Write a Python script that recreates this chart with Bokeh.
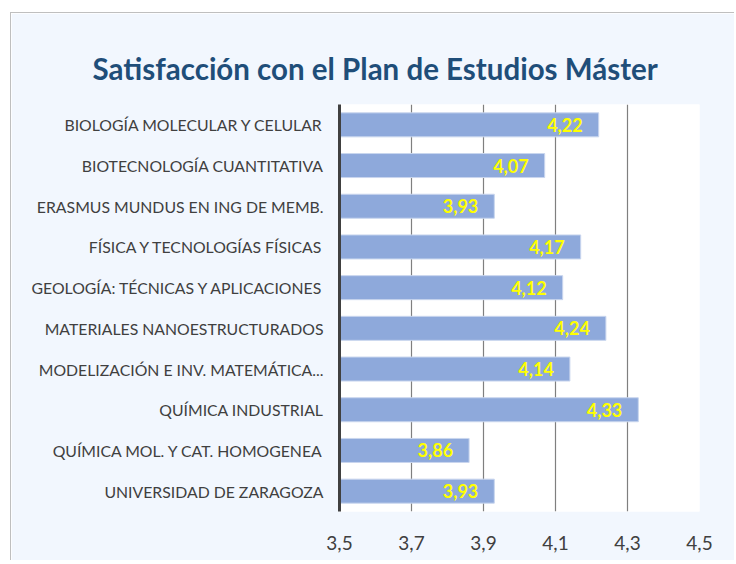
from bokeh.plotting import figure
from bokeh.models import ColumnDataSource, FixedTicker, Title, LabelSet
from bokeh.core.properties import value
from bokeh.embed import file_html
from bokeh.resources import INLINE

categories = [
    "BIOLOGÍA MOLECULAR Y CELULAR",
    "BIOTECNOLOGÍA CUANTITATIVA",
    "ERASMUS MUNDUS EN ING DE MEMB.",
    "FÍSICA Y TECNOLOGÍAS FÍSICAS",
    "GEOLOGÍA: TÉCNICAS Y APLICACIONES",
    "MATERIALES NANOESTRUCTURADOS",
    "MODELIZACIÓN E INV. MATEMÁTICA...",
    "QUÍMICA INDUSTRIAL",
    "QUÍMICA MOL. Y CAT. HOMOGENEA",
    "UNIVERSIDAD DE ZARAGOZA",
]
values = [4.22, 4.07, 3.93, 4.17, 4.12, 4.24, 4.14, 4.33, 3.86, 3.93]
x_ticks = [3.5, 3.7, 3.9, 4.1, 4.3, 4.5]
x_tick_labels = ["3,5", "3,7", "3,9", "4,1", "4,3", "4,5"]
title_text = "Satisfacción con el Plan de Estudios Máster"

labels = [f"{v:.2f}".replace(".", ",") for v in values]
src = ColumnDataSource(dict(cat=categories, val=values, lab=labels))

BG = "#F2F7FE"
p = figure(
    y_range=list(reversed(categories)),
    x_range=(3.5, 4.5),
    width=724, height=548,
    min_border_left=328, min_border_right=36,
    min_border_top=91, min_border_bottom=50,
    output_backend="svg", toolbar_location=None,
    background_fill_color="white", border_fill_color=BG,
)
p.styles = {"border-top": "1.5px solid #BFBFBF", "border-left": "1.5px solid #BFBFBF",
            "margin-top": "12px", "margin-left": "10px"}

p.hbar(y="cat", left=3.5, right="val", height=0.59, source=src,
       fill_color="#8EA9DB", line_color="#C9D6EE", line_width=1)

lbls = LabelSet(x="val", y="cat", text="lab", source=src, x_offset=-16,
                text_align="right", text_baseline="middle",
                text_color="#FFFF00", text_font_style="bold",
                text_font_size="18px", text_font=value("Lato"))
p.add_layout(lbls)

t = Title(text=title_text, align="left", vertical_align="top", text_font="Lato",
          text_font_size="29.5px", text_font_style="bold", text_color="#1F4E79",
          standoff=33, offset=-247)
p.add_layout(t, "above")
p.title.visible = False

p.xaxis.ticker = FixedTicker(ticks=x_ticks)
p.xaxis.major_label_overrides = {t_: l for t_, l in zip(x_ticks, x_tick_labels)}
p.xaxis.axis_line_color = None
p.xaxis.major_tick_line_color = None
p.xaxis.minor_tick_line_color = None
p.xaxis.major_label_text_font = "Lato"
p.xaxis.major_label_text_font_size = "19px"
p.xaxis.major_label_text_color = "#404040"
p.xaxis.major_label_standoff = 18

p.yaxis.axis_line_color = "#404040"
p.yaxis.axis_line_width = 3
p.yaxis.major_tick_line_color = None
p.yaxis.minor_tick_line_color = None
p.yaxis.major_label_text_font = "Lato"
p.yaxis.major_label_text_font_size = "15.8px"
p.yaxis.major_label_text_color = "#404040"
p.yaxis.major_label_standoff = 10

p.xgrid.ticker = FixedTicker(ticks=x_ticks)
p.xgrid.grid_line_color = "#7F7F7F"
p.xgrid.grid_line_width = 1.2
p.ygrid.grid_line_color = None
p.outline_line_color = None

open("out.html", "w").write(file_html(p, INLINE))
